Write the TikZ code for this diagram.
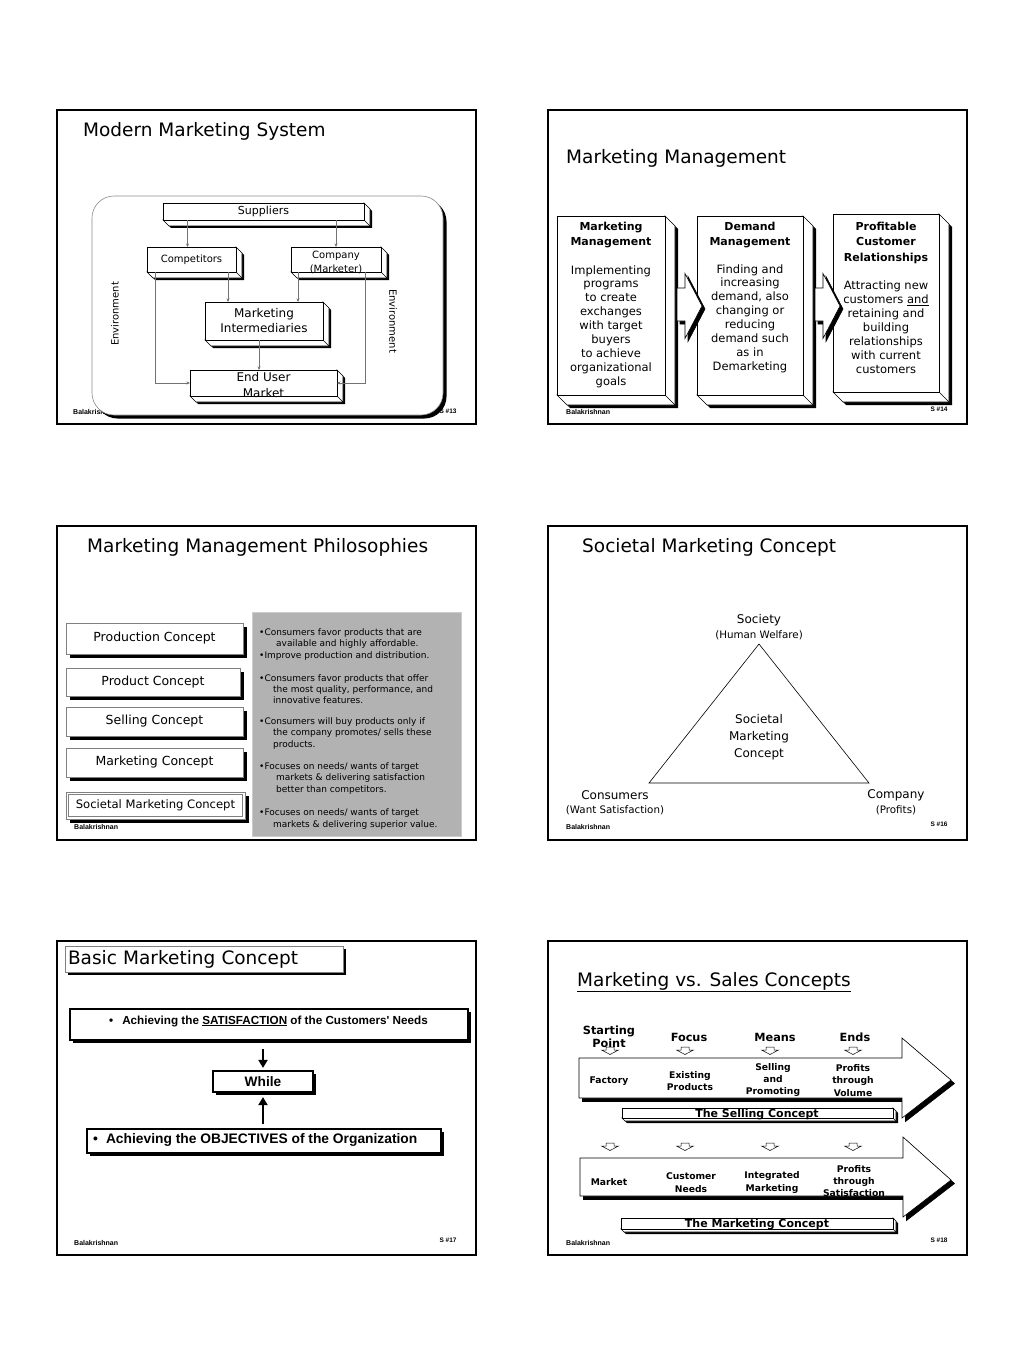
\documentclass[tikz,border=0pt]{standalone}
\usepackage{fontspec}
\setmainfont{DejaVu Sans}
\newfontfamily\arialf{Liberation Sans}
\usetikzlibrary{arrows.meta,positioning,calc,shadows}
\pgfdeclarelayer{bg}
\pgfdeclarelayer{bevels}
\pgfsetlayers{bg,bevels,main}
\definecolor{panelgray}{RGB}{178,178,178}

\newcommand\sz[1]{\fontsize{#1}{#1}\selectfont}
\newcommand\szl[2]{\fontsize{#1}{#2}\selectfont}

% side and bottom faces of a 3D box: node, depth, shadow width
\newcommand\bevel[3]{%
  \begin{pgfonlayer}{bevels}
    \fill ([shift={(#3,#3)}]#1.north east) -- ++(#2,#2)
      -- ([shift={(#2+#3,#2+#3)}]#1.south east)
      -- ([shift={(#2+#3,#2+#3)}]#1.south west)
      -- ([shift={(#3,#3)}]#1.south west) -- cycle;
    \filldraw[fill=white, line width=0.6] (#1.north east) -- ++(#2,#2)
      -- ([shift={(#2,#2)}]#1.south east)
      -- ([shift={(#2,#2)}]#1.south west)
      -- (#1.south west) -- (#1.south east) -- cycle;
    \draw[line width=0.6] (#1.south east) -- ++(#2,#2);
  \end{pgfonlayer}}

% small hollow down arrow: x, top y
\newcommand\smallarr[2]{%
  \draw[line width=0.5, fill=white] (#1-4,#2) -- (#1+4,#2) -- (#1+4,#2+3) -- (#1+8.5,#2+3)
    -- (#1,#2+7.5) -- (#1-8.5,#2+3) -- (#1-4,#2+3) -- cycle;}

\begin{document}
\begin{tikzpicture}[x=1pt, y=-1pt,
    frame/.style={draw, line width=1.4},
    ttl/.style={anchor=west, inner sep=0, font=\sz{18.5}},
    foot/.style={anchor=west, inner sep=0, font=\arialf\bfseries\sz{7}},
    snum/.style={inner sep=0, font=\arialf\bfseries\sz{6.5}},
    box3/.style={draw, fill=white, line width=0.6, inner sep=0, outer sep=0},
    flow/.style={draw=black!55, line width=0.6, -{Stealth[length=3.5pt,width=3pt]}},
    sh/.style={drop shadow={shadow xshift=#1, shadow yshift=-#1, fill=black, opacity=1}},
    cbox/.style={draw=black!50, fill=white, line width=0.6, inner sep=0, sh=4pt, font=\sz{12.5}},
    item/.style={anchor=west, inner sep=0, align=left, font=\szl{9}{11.3}},
    tag/.style={inner sep=0, align=center},
    hd/.style={inner sep=0, align=center, font=\bfseries\szl{9.2}{12.3}},
    wbox/.style={draw, line width=2.2, fill=white, inner sep=0, sh=3pt},
    fat/.style={line width=2.6, -{Triangle[length=8pt,width=9pt]}},
    bar/.style={draw, fill=white, line width=0.6, inner sep=0, outer sep=0}
]
\useasboundingbox (0,0) rectangle (1024,1364);
\begin{pgfonlayer}{bg}
  \fill[white] (0,0) rectangle (1024,1364);
\end{pgfonlayer}

% Slide frames
\foreach \x/\y in {57/110, 548/110, 57/526, 548/526, 57/941, 548/941}
  \draw[frame] (\x,\y) rectangle ++(419,314);

% ---------- Modern Marketing System ----------
\node[ttl] (t13) at (83,131) {Modern Marketing System};
\begin{pgfonlayer}{bg}
  \node[foot] (f13) at (73,412) {Balakrishnan};
  \draw[draw=black!45, fill=white, rounded corners=22, line width=0.6, sh=3.5pt] (92,196) rectangle (443,415);
\end{pgfonlayer}
\node[snum] (n13) at (448,411) {S \#13};

\node[box3, minimum width=201, minimum height=17, font=\sz{11}] (sup) at (263.5,211.5) {Suppliers};
\node[box3, minimum width=89, minimum height=25, font=\sz{10}] (comp) at (191.5,259.5) {Competitors};
\node[box3, minimum width=90, minimum height=25] (co) at (336,259.5) {};
\node[tag, font=\szl{10}{14}] (colbl) at (336,262) {Company\\(Marketer)};
\node[box3, minimum width=118, minimum height=38, align=center, font=\szl{12}{15}] (mi) at (264,321) {Marketing\\Intermediaries};
\node[box3, minimum width=147, minimum height=26] (eum) at (263.5,383) {};
\node[tag, font=\szl{12}{16}] (eumlbl) at (263.5,385) {End User\\Market};
\foreach \n in {sup,comp,co,mi,eum} \bevel{\n}{6}{2};

\draw[flow] ([xshift=-4pt]comp.north |- sup.south) -- ([xshift=-4pt]comp.north);
\draw[flow] (co.north |- sup.south) -- (co.north);
\draw[flow] ([xshift=-8pt]comp.south east) coordinate (c1) -- (c1 |- mi.north);
\draw[flow] ([xshift=7pt]co.south west) coordinate (c2) -- (c2 |- mi.north);
\draw[flow] ([xshift=-5pt]mi.south) coordinate (c3) -- (c3 |- eum.north);
\draw[flow] ([xshift=8pt]comp.south west) |- (eum.west);
\draw[flow] ([xshift=-16pt]co.south east) |- (eum.east);

\node[tag, rotate=90, font=\sz{10}] (envl) at (115,314) {Environment};
\node[tag, rotate=-90, font=\sz{10}] (envr) at (393,321) {Environment};

% ---------- Marketing Management ----------
\node[ttl] (t14) at (566,158) {Marketing Management};
\node[box3, line width=0.8, minimum width=108, minimum height=179] (mm) at (611,305.5) {};
\node[box3, line width=0.8, minimum width=106, minimum height=179] (dm) at (750,305.5) {};
\node[box3, line width=0.8, minimum width=106, minimum height=178] (pcr) at (886,303) {};
\foreach \n in {mm,dm,pcr} \bevel{\n}{10}{3};

\node[tag, font=\bfseries\szl{11}{15}] (mmh) at (611,235.5) {Marketing\\Management};
\node[tag, font=\szl{11.5}{13.9}] (mmb) at (611,326.5) {Implementing\\programs\\to create\\exchanges\\with target\\buyers\\to achieve\\organizational\\goals};
\node[tag, font=\bfseries\szl{11}{15}] (dmh) at (750,235) {Demand\\Management};
\node[tag, font=\szl{11.5}{13.9}] (dmb) at (750,318.5) {Finding and\\increasing\\demand, also\\changing or\\reducing\\demand such\\as in\\Demarketing};
\node[tag, font=\bfseries\szl{11}{15.5}] (pcrh) at (886,242.5) {Profitable\\Customer\\Relationships};
\node[tag, font=\szl{11.5}{14}] (pcrb) at (886,327) {Attracting new\\customers \underline{and}\\retaining and\\building\\relationships\\with current\\customers};

% block arrows between the boxes
\foreach \n in {mm,dm}
  \foreach \s/\c in {3/black,0/white}
    \filldraw[shift={(\n.east)}, shift={(\s,\s)}, fill=\c, line width=0.6]
      (12,-17.5) -- (20,-17.5) -- (20,-32) -- (37,0.5) -- (20,33) -- (20,15.5) -- (12,15.5) -- cycle;

\node[foot] (f14) at (566,412) {Balakrishnan};
\node[snum] (n14) at (939,409) {S \#14};

% ---------- Marketing Management Philosophies ----------
\node[ttl] (t15) at (87,547) {Marketing Management Philosophies};
\filldraw[fill=panelgray, draw=black!20, line width=1] (252,612) rectangle (461,836);

\node[cbox, minimum width=177, minimum height=31] (prod) at (154.5,638.5) {Production Concept};
\node[cbox, minimum width=174, minimum height=28] (prdc) at (153,682) {Product Concept};
\node[cbox, minimum width=177, minimum height=29] (sell) at (154.5,721.5) {Selling Concept};
\node[cbox, minimum width=177, minimum height=29] (mkt) at (154.5,762.5) {Marketing Concept};
\node[cbox, minimum width=179, minimum height=27, font=\sz{11.6}] (soci) at (155.5,805.5) {Societal Marketing Concept};
\draw[black!50, line width=0.6] ([shift={(3,3)}]soci.north west) rectangle ([shift={(-3,-3)}]soci.south east);

\node[item] (p1) at (259,638.5) {•Consumers favor products that are\\\hspace*{17pt}available and highly affordable.};
\node[item] (p2) at (259,656) {•Improve production and distribution.};
\node[item] (p3) at (259,689) {•Consumers favor products that offer\\\hspace*{14pt}the most quality, performance, and\\\hspace*{14pt}innovative features.};
\node[item] (p4) at (259,733.5) {•Consumers will buy products only if\\\hspace*{14pt}the company promotes/ sells these\\\hspace*{14pt}products.};
\node[item] (p5) at (259,778.5) {•Focuses on needs/ wants of target\\\hspace*{17pt}markets \& delivering satisfaction\\\hspace*{17pt}better than competitors.};
\node[item] (p6) at (259,819) {•Focuses on needs/ wants of target\\\hspace*{14pt}markets \& delivering superior value.};

\node[foot] (f15) at (74,827) {Balakrishnan};

% ---------- Societal Marketing Concept ----------
\node[ttl] (t16) at (582,547) {Societal Marketing Concept};
\coordinate (apex) at (759,644);
\coordinate (cl) at (649,783);
\coordinate (cr) at (869,783);
\draw[line width=0.6] (apex) -- (cl) -- (cr) -- cycle;
\node[tag, font=\sz{12}] (soc) at (759,620) {Society};
\node[tag, font=\sz{10.3}] (socs) at (759,635) {(Human Welfare)};
\node[tag, font=\szl{12}{17}] (smc) at (759,737) {Societal\\Marketing\\Concept};
\node[tag, font=\sz{12}] (cons) at (615,795) {Consumers};
\node[tag, font=\sz{10.3}] (conss) at (615,810) {(Want Satisfaction)};
\node[tag, font=\sz{12}] (comy) at (896,795) {Company};
\node[tag, font=\sz{10.3}] (comys) at (896,810) {(Profits)};

\node[foot] (f16) at (566,827) {Balakrishnan};
\node[snum] (n16) at (939,824) {S \#16};

% ---------- Basic Marketing Concept ----------
\node[draw=black!50, fill=white, line width=0.6, sh=3pt, minimum height=26, inner xsep=3, inner ysep=0,
      text width=272, align=left, font=\sz{18.5}] (t17) at (204,959) {\raisebox{-2pt}{Basic Marketing Concept}};

\node[wbox, minimum width=398, minimum height=31] (sat) at (269,1024.5) {};
\node[anchor=west, inner sep=0, font=\arialf\bfseries\sz{11.7}] (satt) at (109,1021)
  {\textbullet\hspace{9pt}Achieving the \underline{SATISFACTION} of the Customers' Needs};
\node[wbox, minimum width=100, minimum height=21, font=\arialf\bfseries\sz{13.7}] (wh) at (263,1081.5) {While};
\node[wbox, minimum width=354, minimum height=24] (obj) at (264,1141) {};
\node[anchor=west, inner sep=0, font=\arialf\bfseries\sz{13.8}] (objt) at (93,1140)
  {\textbullet\hspace{8pt}Achieving the OBJECTIVES of the Organization};

\draw[fat, shorten <=8pt, shorten >=2pt] (sat.south -| wh.north) -- (wh.north);
\draw[fat, shorten <=4pt, shorten >=4pt] (obj.north -| wh.south) -- (wh.south);

\node[foot] (f17) at (74,1243) {Balakrishnan};
\node[snum] (n17) at (448,1240) {S \#17};

% ---------- Marketing vs. Sales Concepts ----------
\node[ttl] (t18) at (577,982) {\underline{Marketing vs. Sales Concepts}};

\node[tag, font=\bfseries\szl{11.3}{13}] (h1) at (609,1036.5) {Starting\\Point};
\node[tag, font=\bfseries\sz{11.3}] (h2) at (689,1037) {Focus};
\node[tag, font=\bfseries\sz{11.3}] (h3) at (775,1037) {Means};
\node[tag, font=\bfseries\sz{11.3}] (h4) at (855,1037) {Ends};

% big arrows
\foreach \s/\c in {3.5/black,0/white}
  \filldraw[shift={(\s,\s)}, fill=\c, line width=0.6]
    (579,1058) -- (902,1058) -- (902,1038) -- (951,1080) -- (902,1118) -- (902,1098) -- (579,1098) -- cycle;
\foreach \s/\c in {3.5/black,0/white}
  \filldraw[shift={(\s,\s)}, fill=\c, line width=0.6]
    (580,1158) -- (903,1158) -- (903,1137) -- (951,1180) -- (903,1217) -- (903,1196) -- (580,1196) -- cycle;

\foreach \x in {610,685,770,853} {\smallarr{\x}{1047} \smallarr{\x}{1143}}

\node[hd] (r1a) at (609,1081) {Factory};
\node[hd] (r1b) at (690,1081) {Existing\\Products};
\node[hd] (r1c) at (773,1080) {Selling\\and\\Promoting};
\node[hd] (r1d) at (853,1080.5) {Profits\\through\\Volume};

\node[hd] (r2a) at (609,1182) {Market};
\node[hd] (r2b) at (691,1182.5) {Customer\\Needs};
\node[hd] (r2c) at (772,1182.5) {Integrated\\Marketing};
\node[hd] (r2d) at (854,1181) {Profits\\through\\Satisfaction};

\node[bar, minimum width=271, minimum height=10] (selc) at (757.5,1113) {};
\node[tag, font=\bfseries\sz{11}] (selct) at (757,1114) {The Selling Concept};
\node[bar, minimum width=272, minimum height=11] (mktc) at (757,1223.5) {};
\node[tag, font=\bfseries\sz{11}] (mktct) at (757,1224) {The Marketing Concept};
\foreach \n in {selc,mktc} \bevel{\n}{3}{2};

\node[foot] (f18) at (566,1243) {Balakrishnan};
\node[snum] (n18) at (939,1240) {S \#18};

\end{tikzpicture}
\end{document}
